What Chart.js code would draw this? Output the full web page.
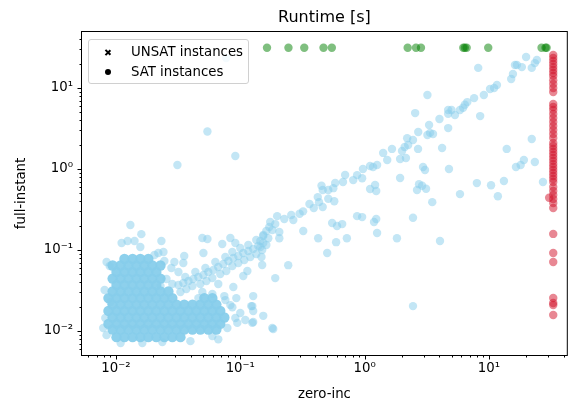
<!DOCTYPE html>
<html lang="en">
<head>
    <meta charset="UTF-8">
    <title>Runtime [s]</title>
    <script src="https://cdn.jsdelivr.net/npm/chart.js"></script>
    <style>
        body {
            margin: 0;
            padding: 0;
            background: #fff;
            font-family: "DejaVu Sans", sans-serif;
            overflow: hidden;
        }

        #chart-container {
            position: relative;
            width: 568px;
            height: 407px;
            overflow: hidden;   /* canvas is a little wider, see below */
        }

        canvas {
            display: block;
        }

        /* legend box sits inside the axes, like matplotlib's upper left legend */
        #legend {
            position: absolute;
            left: 88px;
            top: 39px;
            width: 159px;
            height: 43px;
            border: 1px solid #d0d0d0;
            border-radius: 3px;
            background: rgba(255, 255, 255, 0.8);
            font-size: 13.3px;
            color: #000;
        }

        .legend-row {
            position: absolute;
            left: 0;
            height: 16px;
            line-height: 16px;
        }

        .legend-row span.label {
            position: absolute;
            left: 42px;
            white-space: nowrap;
        }

        .marker-x {
            position: absolute;
            left: 16px;
            top: 5px;
            width: 6px;
            height: 6px;
        }

        .marker-x::before, .marker-x::after {
            content: '';
            position: absolute;
            left: 2.25px;
            top: -0.5px;
            width: 1.5px;
            height: 7px;
            background: #000;
            transform: rotate(45deg);
        }

        .marker-x::after {
            transform: rotate(-45deg);
        }

        .marker-dot {
            position: absolute;
            left: 15.5px;
            top: 5px;
            width: 6px;
            height: 6px;
            border-radius: 50%;
            background: #000;
        }
    </style>
</head>
<body>
    <div id="chart-container">
        <!-- 4px wider than the window: chart.js keeps a few px on the right that the reference does not have -->
        <canvas id="runtime-chart" width="572" height="407"></canvas>
        <div id="legend">
            <div class="legend-row" style="top: 4px;"><i class="marker-x"></i><span class="label">UNSAT instances</span></div>
            <div class="legend-row" style="top: 24px;"><i class="marker-dot"></i><span class="label">SAT instances</span></div>
        </div>
    </div>

    <script>
        // axis ranges and tick labels (seconds, log scale)
        const xRange = [0.00533, 42.3];
        const yRange = [0.00506, 49.1];
        const tickValues = [0.01, 0.1, 1, 10];
        const tickLabels = ['10\u207B\u00B2', '10\u207B\u00B9', '10\u2070', '10\u00B9'];

        // instances solved by both configs: [zero-inc, full-instant]
        const solvedBoth = [
            [19.9, 24.1], [16.2, 19.2], [16.8, 19.2], [18.4, 18.1], [22.1, 17.7], [23.4, 20.3], [24.3, 22.2],
            [15.6, 14.9], [15.1, 12.9], [11.6, 10.9], [11.0, 10.0], [10.2, 9.7], [9.1, 8.2], [8.2, 17.7],
            [7.6, 7.5], [6.7, 6.7], [6.4, 6.2], [6.2, 5.7], [5.85, 5.35], [5.33, 4.64], [5.0, 5.35], [4.7, 5.35],
            [4.7, 4.8], [4.0, 4.15], [8.5, 4.5], [4.7, 3.2], [3.3, 3.5], [3.55, 2.7], [3.36, 2.79], [3.2, 2.63],
            [2.7, 2.86], [3.2, 8.2], [2.55, 4.9], [2.2, 2.4], [2.45, 2.28], [2.24, 1.98], [2.1, 1.87], [2.0, 1.67],
            [1.93, 1.33], [2.15, 1.37], [2.69, 1.77], [4.2, 1.82], [1.93, 0.774], [2.95, 1.06], [3.06, 0.97],
            [4.77, 1.0], [2.74, 0.65], [2.9, 0.62], [2.64, 0.55], [3.12, 0.57], [3.5, 0.39], [5.85, 0.49],
            [8.0, 0.67], [10.4, 0.63], [11.8, 0.46], [13.2, 0.71], [16.5, 1.06], [18.0, 1.12], [19.1, 1.29],
            [23.4, 1.22], [22.1, 2.35], [13.9, 1.77], [27.2, 0.69], [2.45, 0.25], [4.04, 0.129], [1.82, 0.14],
            [2.45, 0.0203], [0.077, 23.5],
            [1.66, 1.77], [1.41, 1.58], [1.52, 1.29], [1.26, 1.12], [1.17, 1.06], [1.107, 1.09], [0.97, 1.0],
            [0.87, 0.84], [0.955, 0.77], [0.81, 0.73], [0.697, 0.843], [0.67, 0.69], [0.58, 0.671], [0.56, 0.58],
            [0.51, 0.55], [0.46, 0.55], [0.45, 0.62], [0.42, 0.45], [0.43, 0.39], [0.46, 0.34], [0.51, 0.43],
            [0.57, 0.40], [0.39, 0.33], [0.36, 0.37], [0.32, 0.30], [0.30, 0.28], [0.267, 0.235], [0.257, 0.27],
            [0.226, 0.241], [0.198, 0.262], [0.191, 0.209], [0.171, 0.192], [0.162, 0.172], [0.153, 0.153],
            [0.145, 0.129], [0.145, 0.109], [0.148, 0.082], [0.150, 0.0653],
            [1.107, 0.566], [1.24, 0.535], [1.214, 0.634], [0.87, 0.262], [0.955, 0.255], [1.24, 0.241],
            [1.19, 0.222], [1.26, 0.162], [0.548, 0.2155], [0.60, 0.198], [0.66, 0.209], [0.423, 0.14],
            [0.59, 0.125], [0.72, 0.14], [0.321, 0.172], [0.206, 0.14], [0.206, 0.167], [0.5, 0.092],
            [0.243, 0.065], [0.191, 0.045], [0.153, 0.0154], [0.184, 0.0106], [0.125, 0.0203], [0.127, 0.027],
            [0.127, 0.0129],
            [0.0318, 0.037], [0.0348, 0.0392], [0.0383, 0.0414], [0.0419, 0.0438], [0.046, 0.0464], [0.0505, 0.0491],
            [0.0553, 0.0535], [0.0607, 0.0566], [0.0665, 0.0617], [0.073, 0.0672], [0.0802, 0.0732], [0.0879, 0.0797],
            [0.0964, 0.0843], [0.1057, 0.0918], [0.116, 0.0972], [0.127, 0.103], [0.1395, 0.112], [0.153, 0.122],
            [0.168, 0.14], [0.181, 0.177],
            [0.033, 0.0303], [0.0368, 0.033], [0.0412, 0.036], [0.0477, 0.038], [0.0534, 0.0414], [0.0596, 0.0451],
            [0.069, 0.0505], [0.0772, 0.055], [0.0863, 0.0635], [0.0964, 0.0691], [0.1077, 0.0753], [0.1203, 0.082],
            [0.1345, 0.0892], [0.150, 0.1], [0.162, 0.1153],
            [0.0361, 0.0464], [0.0435, 0.0535], [0.0524, 0.0599], [0.063, 0.0711], [0.0758, 0.082], [0.0863, 0.0945],
            [0.1, 0.1058], [0.116, 0.1153], [0.1345, 0.1328], [0.153, 0.1487], [0.174, 0.2216],
            [0.0495, 0.1406], [0.0544, 0.1366], [0.0354, 0.0843], [0.0505, 0.0918], [0.0832, 0.1405], [0.0912, 0.122],
            [0.0716, 0.1186], [0.127, 0.0177], [0.125, 0.0126], [0.0912, 0.0145], [0.0863, 0.0197], [0.1225, 0.0203],
            [0.0665, 0.038], [0.0879, 0.035], [0.1057, 0.0477], [0.114, 0.055], [0.046, 0.0255], [0.0665, 0.0079],
            [0.181, 0.0109],
            [0.01306, 0.2036], [0.016, 0.157], [0.0111, 0.122], [0.0124, 0.129], [0.0141, 0.129], [0.0157, 0.109],
            [0.0232, 0.129], [0.0241, 0.0945], [0.0204, 0.0867], [0.0089, 0.0635], [0.0295, 0.0711], [0.0079, 0.0109],
            [0.00904, 0.0228], [0.0544, 2.9], [0.0912, 1.45], [0.0312, 1.12],
            [0.0245, 0.0732], [0.0279, 0.0599], [0.0318, 0.0535], [0.0348, 0.0691], [0.0255, 0.0438], [0.0284, 0.038],
            [0.0228, 0.036],
            [0.0082, 0.0145], [0.0084, 0.0089], [0.0109, 0.0071], [0.0163, 0.0071], [0.0236, 0.0073], [0.0397, 0.0075],
            [0.0787, 0.0109], [0.1, 0.0167], [0.0946, 0.0126], [0.0081, 0.0321], [0.0084, 0.0711], [0.0219, 0.0918],
            [0.0758, 0.0241], [0.0832, 0.0209], [0.1097, 0.0137], [0.0596, 0.0087],
            [0.0495, 0.0303], [0.0596, 0.0286], [0.0744, 0.027], [0.0929, 0.0255]
        ];

        // the dense cluster of easy instances, read row by row (full-instant value, zero-inc values)
        const clusterRowY = [0.0775, 0.0644, 0.0535, 0.0444, 0.037, 0.0308, 0.0255, 0.0212, 0.0177, 0.0147, 0.01224, 0.01045, 0.0084];
        const clusterRowX = [
            [0.0117, 0.0136, 0.0157, 0.0182],
            [0.0094, 0.0109, 0.0126, 0.0146, 0.0169, 0.0196, 0.0228],
            [0.0101, 0.0117, 0.0136, 0.0157, 0.0182, 0.0211],
            [0.0094, 0.0109, 0.0126, 0.0146, 0.0169, 0.0196, 0.0228],
            [0.0101, 0.0117, 0.0136, 0.0157, 0.0182, 0.0211],
            [0.0094, 0.0109, 0.0126, 0.0146, 0.0169, 0.0196, 0.0228, 0.0264],
            [0.0087, 0.0101, 0.0117, 0.0136, 0.0157, 0.0182, 0.0211, 0.0245, 0.0284, 0.0514, 0.0596],
            [0.0094, 0.0109, 0.0126, 0.0146, 0.0169, 0.0196, 0.0228, 0.0264, 0.0307, 0.0354, 0.0412, 0.0477, 0.0553, 0.0642],
            [0.0087, 0.0101, 0.0117, 0.0136, 0.0157, 0.0182, 0.0211, 0.0245, 0.0284, 0.033, 0.0383, 0.0443, 0.0514, 0.0596, 0.069],
            [0.0094, 0.0109, 0.0126, 0.0146, 0.0169, 0.0196, 0.0228, 0.0264, 0.0307, 0.0354, 0.0412, 0.0477, 0.0553, 0.0642, 0.0744],
            [0.0087, 0.0101, 0.0117, 0.0136, 0.0157, 0.0182, 0.0211, 0.0245, 0.0284, 0.033, 0.0383, 0.0443, 0.0514, 0.0596, 0.069],
            [0.0094, 0.0109, 0.0126, 0.0146, 0.0169, 0.0196, 0.0228, 0.0264, 0.0307, 0.0354, 0.0412, 0.0477, 0.0553, 0.0642],
            [0.0101, 0.0117, 0.0136, 0.0157, 0.0182, 0.0211, 0.0245, 0.0284, 0.033]
        ];

        // full-instant timed out (plotted at the timeout value)
        const fullTimeoutY = 31.4;
        const fullTimeoutX = [0.164, 0.244, 0.327, 0.467, 0.545, 2.22, 2.59, 2.84, 6.22, 6.4, 6.62, 9.87, 26.5, 28.5, 29.1];

        // zero-inc timed out
        const zeroTimeoutX = 32.9;
        const zeroTimeoutY = [
            25.5, 23.5, 21.6, 19.8, 18.1, 16.7, 15.3, 14.1, 12.5, 11.2, 10.0, 8.9,
            6.35, 5.83, 5.35, 4.77, 4.26, 3.8, 3.39, 3.03, 2.7, 2.41,
            2.09, 1.92, 1.77, 1.62, 1.49, 1.37, 1.26, 1.15, 1.06, 0.972, 0.893, 0.82, 0.753, 0.69,
            0.599, 0.535, 0.477, 0.426, 0.38, 0.33,
            0.158, 0.092, 0.071, 0.0256, 0.0222, 0.0209, 0.0158
        ];
        const zeroTimeoutExtra = [[30.5, 0.442]];

        const skyblue = 'rgba(135, 206, 235, 0.5)';

        // points for each group
        const bothData = solvedBoth.map(p => ({x: p[0], y: p[1]}));
        const clusterData = [];
        clusterRowY.forEach((y, r) => {
            clusterRowX[r].forEach(x => clusterData.push({x, y}));
        });
        const greenData = fullTimeoutX.map(x => ({x, y: fullTimeoutY}));
        const redData = zeroTimeoutY.map(y => ({x: zeroTimeoutX, y}))
            .concat(zeroTimeoutExtra.map(p => ({x: p[0], y: p[1]})));

        // matplotlib-like frame with major and minor ticks
        const frameTicks = {
            id: 'frameTicks',
            afterDatasetsDraw(chart) {
                const {ctx, chartArea: a} = chart;
                const xs = chart.scales.x;
                const ys = chart.scales.y;
                ctx.save();
                ctx.strokeStyle = '#000';
                ctx.lineWidth = 1;
                ctx.strokeRect(a.left - 0.5, a.top - 0.5, a.right - a.left + 1, a.bottom - a.top + 1);
                ctx.beginPath();
                for (let e = -3; e <= 1; e++) {
                    for (let m = 1; m <= 9; m++) {
                        const v = m * Math.pow(10, e);
                        const len = m === 1 ? 4.5 : 2.5;
                        if (v >= xs.min && v <= xs.max) {
                            const px = Math.round(xs.getPixelForValue(v)) + 0.5;
                            ctx.moveTo(px, a.bottom);
                            ctx.lineTo(px, a.bottom + len);
                        }
                        if (v >= ys.min && v <= ys.max) {
                            const py = Math.round(ys.getPixelForValue(v)) + 0.5;
                            ctx.moveTo(a.left, py);
                            ctx.lineTo(a.left - len, py);
                        }
                    }
                }
                ctx.stroke();
                ctx.restore();
            }
        };

        const tickFont = {family: 'DejaVu Sans', size: 13.3};

        const ctx = document.getElementById('runtime-chart').getContext('2d');
        new Chart(ctx, {
            type: 'scatter',
            data: {
                datasets: [
                    {
                        label: 'solved (dense)',
                        data: clusterData,
                        backgroundColor: 'rgba(135, 206, 235, 0.95)',
                        pointRadius: 5.2,
                        borderWidth: 0,
                    },
                    {
                        label: 'solved',
                        data: bothData,
                        backgroundColor: skyblue,
                        pointRadius: 4.2,
                        borderWidth: 0,
                    },
                    {
                        label: 'full-instant timeout',
                        data: greenData,
                        backgroundColor: 'rgba(0, 128, 0, 0.5)',
                        pointRadius: 4.2,
                        borderWidth: 0,
                    },
                    {
                        label: 'zero-inc timeout',
                        data: redData,
                        backgroundColor: 'rgba(210, 16, 40, 0.5)',
                        pointRadius: 4.2,
                        borderWidth: 0,
                    }
                ]
            },
            options: {
                responsive: false,
                animation: false,
                layout: {padding: {left: 0, right: 1, top: 0, bottom: 0}},
                plugins: {
                    legend: {display: false},
                    tooltip: {enabled: false},
                    title: {
                        display: true,
                        text: 'Runtime [s]',
                        fullSize: false,
                        color: '#000',
                        font: {family: 'DejaVu Sans', size: 16, weight: 'normal'},
                        padding: {top: 8.4, bottom: 4.4},
                    },
                },
                scales: {
                    x: {
                        type: 'logarithmic',
                        position: 'bottom',
                        min: xRange[0],
                        max: xRange[1],
                        grid: {display: false, drawTicks: false},
                        border: {display: false},
                        afterBuildTicks: axis => { axis.ticks = tickValues.map(v => ({value: v})); },
                        afterFit: axis => {
                            axis.height = 52;
                            axis.paddingLeft = 0;
                            axis.paddingRight = 0;
                        },
                        ticks: {
                            autoSkip: false,
                            maxRotation: 0,
                            padding: 6,
                            color: '#000',
                            font: tickFont,
                            callback: (v, i) => tickLabels[i],
                        },
                        title: {
                            display: true,
                            text: 'zero-inc',
                            color: '#000',
                            font: tickFont,
                            padding: {top: 0, bottom: 4},
                        },
                    },
                    y: {
                        type: 'logarithmic',
                        position: 'left',
                        min: yRange[0],
                        max: yRange[1],
                        grid: {display: false, drawTicks: false},
                        border: {display: false},
                        afterBuildTicks: axis => { axis.ticks = tickValues.map(v => ({value: v})); },
                        afterFit: axis => {
                            axis.width = 82;
                            axis.paddingTop = 0;
                            axis.paddingBottom = 0;
                        },
                        ticks: {
                            autoSkip: false,
                            padding: 9,
                            color: '#000',
                            font: tickFont,
                            callback: (v, i) => tickLabels[i],
                        },
                        title: {
                            display: true,
                            text: 'full-instant',
                            color: '#000',
                            font: tickFont,
                            padding: {top: 14, bottom: 0},
                        },
                    },
                },
            },
            plugins: [frameTicks]
        });
    </script>
</body>
</html>
